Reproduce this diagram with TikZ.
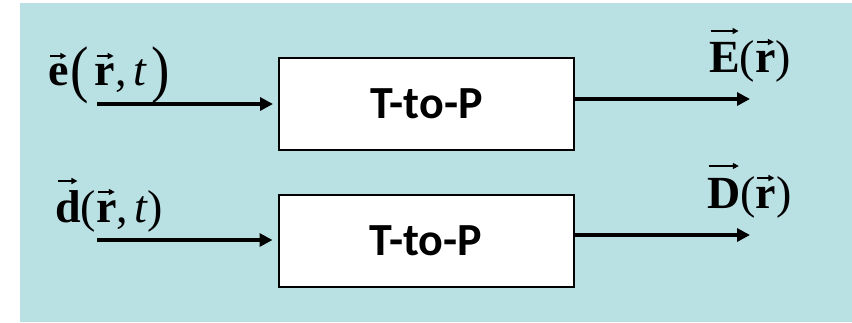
\documentclass[tikz,border=0pt]{standalone}
\usepackage{fontspec}
\setmainfont{Liberation Serif}
\newfontfamily\blocksans{Carlito}
\usetikzlibrary{arrows.meta}
\definecolor{panel}{RGB}{185,224,227}
% small arrow drawn as an accent: #1 length
\newcommand{\accarrow}[1]{\tikz[baseline=0pt]\draw[line width=1.5pt,
  -{Triangle[length=6pt,width=6pt]}] (0pt,0pt) -- (#1,0pt);}
% bold letter #1 with an arrow of length #2 raised #3 above the baseline
\newcommand{\bvec}[3]{\leavevmode\setbox0\hbox{\bfseries #1}%
  \rlap{\hbox to \wd0{\hss\raisebox{#3}{\accarrow{#2}}\hss}}\box0}
% stretched parenthesis
\newcommand{\tallparen}[1]{\raisebox{-0.12em}{\scalebox{1.2}[1.37]{#1}}}
\begin{document}
\begin{tikzpicture}[x=1pt,y=-1pt,
  block/.style={draw=black,line width=2pt,fill=white,
    minimum width=295pt,minimum height=92pt,inner sep=0pt,
    font=\blocksans\bfseries\fontsize{46}{50}\selectfont},
  flow/.style={line width=4pt,-{Triangle[length=13pt,width=13pt]}},
  sig/.style={inner sep=0pt,anchor=base west,
    font=\fontsize{46}{55}\selectfont}]
  % page and coloured panel
  \fill[white] (0,0) rectangle (852,322);
  \fill[panel] (20,3) rectangle (852,322);
  \useasboundingbox (0,0) rectangle (852,322);

  % transform blocks
  \node[block] (b1) at (426.5,103.5) {T-to-P};
  \node[block] (b2) at (426,240.5) {T-to-P};

  % free ends of the signal lines
  \coordinate (i1) at (97,104);
  \coordinate (o1) at (750,99);
  \coordinate (i2) at (97,240);
  \coordinate (o2) at (750,235);

  \draw[flow,shorten >=5pt] (i1) -- (b1.west |- i1);
  \draw[flow] (b1.east |- o1) -- (o1);
  \draw[flow,shorten >=5pt] (i2) -- (b2.west |- i2);
  \draw[flow] (b2.east |- o2) -- (o2);

  % signal labels
  \node[sig] (le) at (48,85)
    {\bvec{e}{16pt}{29pt}\kern2pt\tallparen{(}\kern6pt\bvec{r}{17pt}{29pt},\kern7pt\textit{t}\kern4pt\tallparen{)}};
  \node[sig] (lE) at (709,72)
    {\bvec{E}{28pt}{41pt}(\bvec{r}{17pt}{30pt})};
  \node[sig] (ld) at (55,222)
    {\bvec{d}{19pt}{41pt}(\bvec{r}{17pt}{30pt},\kern6pt\textit{t})};
  \node[sig] (lD) at (707,208)
    {\bvec{D}{30pt}{42pt}(\bvec{r}{17pt}{30pt})};
\end{tikzpicture}
\end{document}
